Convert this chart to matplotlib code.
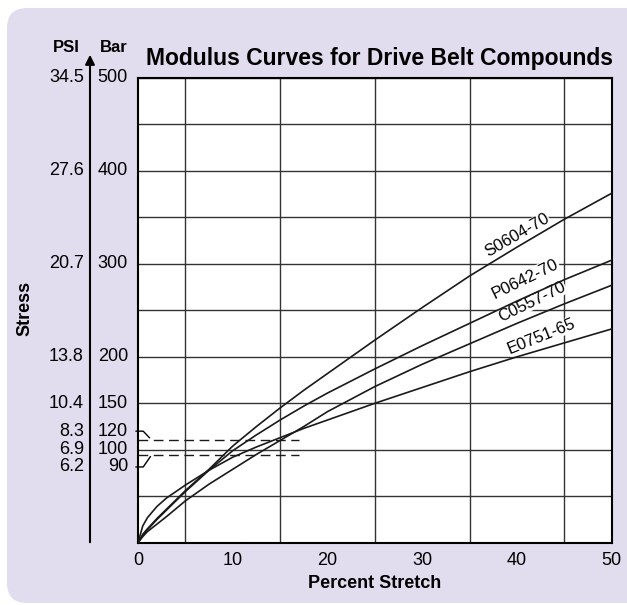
import numpy as np
import matplotlib
matplotlib.use("Agg")
import matplotlib.pyplot as plt
import matplotlib.transforms as mtransforms
from matplotlib.patches import FancyBboxPatch

plt.rcParams['font.family'] = ['Liberation Sans', 'DejaVu Sans']

# Data (percent stretch vs stress in bar)
stretch = [0, 0.5, 1, 2, 3, 5, 7.5, 10, 12.5, 15, 17.5, 20, 25, 30, 35, 40, 45, 50]
s0604 = [0, 9, 15, 26, 36, 56, 79, 104, 125, 145, 164, 182, 218, 253, 287, 318, 348, 376]
p0642 = [0, 8, 14, 25, 35, 55, 78, 99, 116, 132, 147, 161, 187, 212, 236, 260, 283, 304]
c0557 = [0, 6.5, 12, 20, 28, 45, 63, 79, 95, 110, 125, 141, 168, 192, 214, 236, 257, 277]
e0751 = [0, 18, 27, 39, 48, 62, 78, 92, 103, 113, 123, 132, 150, 167, 184, 200, 215, 230]

compounds = ['S0604-70', 'P0642-70', 'C0557-70', 'E0751-65']

bar_ticks = [500, 400, 300, 200, 150, 120, 100, 90]
psi_labels = ['34.5', '27.6', '20.7', '13.8', '10.4', '8.3', '6.9', '6.2']
x_ticks = [0, 10, 20, 30, 40, 50]
band_levels = [111, 94.5]   # dashed lines of the 90-120 bar band

W, H = 627, 605
fig = plt.figure(figsize=(W / 100, H / 100), dpi=100)
fig.patch.set_facecolor('white')

# lavender rounded panel (pixel coords)
panel = FancyBboxPatch((7, 2), 660, 595, boxstyle='round,pad=0,rounding_size=20',
                       transform=mtransforms.IdentityTransform(),
                       facecolor='#e1dcee', edgecolor='none', zorder=-5)
fig.patches.append(panel)

ax = fig.add_axes([138 / W, 1 - 542.7 / H, (611.7 - 138) / W, (542.7 - 78) / H])
ax.set_zorder(1)
ax.set_facecolor('white')
ax.set_xlim(0, 50)
ax.set_ylim(0, 500)

ax.set_xticks(np.arange(0, 51, 5), minor=True)
ax.set_yticks(np.arange(0, 501, 50), minor=True)
ax.set_xticks(x_ticks)
ax.set_xticklabels([str(v) for v in x_ticks], fontsize=13)
ax.set_yticks([])
ax.grid(True, which='minor', color='#333333', lw=1.0)
ax.tick_params(which='both', length=0)
ax.tick_params(axis='x', pad=7)
for sp in ax.spines.values():
    sp.set_linewidth(1.5)
    sp.set_color('black')
ax.set_axisbelow(True)

ax.set_xlabel('Percent Stretch', fontsize=13, fontweight='bold', labelpad=4)

# dashed band lines
for lv in band_levels:
    ax.plot([0, 17], [lv, lv], color='#1a1a1a', lw=1.0, dashes=(7, 4), zorder=3)

# curve labels (white box hides the grid behind them)
label_pos = [(40.0, 331, 30), (40.9, 284, 26), (41.6, 259, 26), (42.6, 222, 22)]
for name, (lx, ly, rot) in zip(compounds, label_pos):
    ax.text(lx, ly, name, fontsize=12, rotation=rot, ha='center', va='center',
            rotation_mode='anchor', zorder=3,
            bbox=dict(facecolor='white', edgecolor='none', pad=0.3))

# curves on top
for ys in [s0604, p0642, c0557, e0751]:
    ax.plot(stretch, ys, color='#1a1a1a', lw=1.2, zorder=4)

# stress scales on the left
trans = mtransforms.blended_transform_factory(ax.transAxes, ax.transData)
bar_x = (128 - 138) / (611.7 - 138)
psi_x = (84 - 138) / (611.7 - 138)
line_x = (90 - 138) / (611.7 - 138)
for b, p in zip(bar_ticks, psi_labels):
    yy = b if b != 90 else 81.5
    ax.text(bar_x, yy, str(b), transform=trans, ha='right', va='center', fontsize=13)
    ax.text(psi_x, yy, p, transform=trans, ha='right', va='center', fontsize=13)

ax.annotate('', xy=(line_x, 525), xytext=(line_x, 0.5), xycoords=trans, textcoords=trans,
            arrowprops=dict(arrowstyle='-|>', lw=1.5, color='black', mutation_scale=14,
                            shrinkA=0, shrinkB=0),
            annotation_clip=False)

# brackets linking 120 and 90 labels to the dashed lines
ax.plot([-0.2, 0.55, 1.2], [120, 120, 113], color='black', lw=1.0, clip_on=False, zorder=5)
ax.plot([-0.2, 0.55, 1.3], [81.5, 81.5, 92.5], color='black', lw=1.0, clip_on=False, zorder=5)

fig.text(66 / W, 1 - 47.5 / H, 'PSI', fontsize=12, fontweight='bold', ha='center', va='center')
fig.text(114 / W, 1 - 47.5 / H, 'Bar', fontsize=12, fontweight='bold', ha='center', va='center')
fig.text(25 / W, 1 - 308 / H, 'Stress', fontsize=13, fontweight='bold', rotation=90,
         ha='center', va='center')
fig.text(379.5 / W, 1 - 58 / H, 'Modulus Curves for Drive Belt Compounds', fontsize=16.5,
         fontweight='bold', ha='center', va='center')

fig.savefig('out.png', dpi=100)
